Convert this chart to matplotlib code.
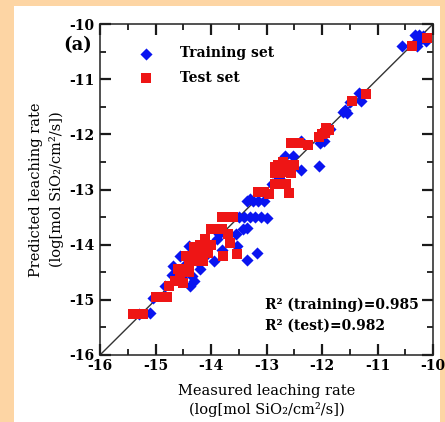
import matplotlib
matplotlib.use("Agg")
import matplotlib.pyplot as plt
from matplotlib.patches import Rectangle
from matplotlib.ticker import MultipleLocator

train_x = [-10.55, -10.32, -10.25, -10.30, -10.22, -10.18, -10.28, -10.12,
           -11.34, -11.30, -11.50, -11.62, -11.55, -11.58,
           -12.03, -11.97, -12.06, -11.85, -11.95,
           -12.37, -12.67, -12.52, -12.72, -12.37, -12.55, -12.90, -12.78,
           -13.35, -13.25, -13.15, -13.05, -13.30,
           -13.50, -13.40, -13.30, -13.20, -13.10, -13.00,
           -13.42, -13.35, -13.55, -13.53, -13.35, -13.18,
           -13.85, -13.90, -13.80, -13.95, -14.10,
           -14.20, -14.35, -14.38, -14.30, -14.53, -14.60, -14.83, -15.04,
           -14.68, -14.56, -14.40, -14.25, -14.45, -15.10, -15.30, -14.70]
train_y = [-10.39, -10.20, -10.20, -10.33, -10.27, -10.22, -10.40, -10.30,
           -11.25, -11.40, -11.42, -11.60, -11.62, -11.55,
           -12.15, -12.12, -12.57, -11.90, -11.95,
           -12.12, -12.40, -12.40, -12.55, -12.65, -12.60, -12.90, -12.80,
           -13.20, -13.20, -13.20, -13.20, -13.18,
           -13.50, -13.50, -13.50, -13.50, -13.50, -13.52,
           -13.72, -13.70, -13.80, -14.02, -14.27, -14.15,
           -13.80, -13.90, -14.10, -14.30, -14.20,
           -14.45, -14.57, -14.75, -14.65, -14.57, -14.62, -14.75, -14.96,
           -14.39, -14.21, -14.03, -14.30, -14.35, -15.24, -15.25, -14.55]

test_x = [-10.38, -10.11, -11.20, -11.46,
          -12.00, -11.95, -11.88, -12.05, -11.92,
          -12.55, -12.48, -12.42, -12.25,
          -12.85, -12.80, -12.75, -12.70, -12.65, -12.60, -12.55, -12.50,
          -12.85, -12.75, -12.65, -12.55, -12.70,
          -12.85, -12.75, -12.65, -12.60,
          -13.15, -13.05, -12.95,
          -13.80, -13.70, -13.60,
          -14.00, -13.90, -13.80, -13.70, -13.65, -13.78, -13.53,
          -14.10, -14.00, -14.10, -14.20, -14.30, -14.20, -14.05, -14.35,
          -14.45, -14.30, -14.15, -14.40, -14.50, -14.60, -14.40, -14.55,
          -14.65, -14.50, -14.75,
          -14.90, -14.80, -15.00, -15.40, -15.30, -15.22]
test_y = [-10.39, -10.25, -11.27, -11.40,
          -12.00, -11.97, -11.92, -12.05, -11.88,
          -12.15, -12.15, -12.15, -12.20,
          -12.60, -12.55, -12.60, -12.58, -12.62, -12.55, -12.60, -12.55,
          -12.70, -12.70, -12.68, -12.70, -12.50,
          -12.90, -12.90, -12.90, -13.06,
          -13.05, -13.05, -13.08,
          -13.50, -13.50, -13.50,
          -13.72, -13.72, -13.72, -13.80, -13.97, -14.20, -14.17,
          -13.90, -14.00, -14.05, -14.00, -14.05, -14.15, -14.15, -14.20,
          -14.20, -14.30, -14.30, -14.35, -14.45, -14.45, -14.50, -14.60,
          -14.65, -14.70, -14.75,
          -14.95, -14.95, -14.95, -15.25, -15.25, -15.25]

xticks = [-16, -15, -14, -13, -12, -11, -10]
yticks = [-16, -15, -14, -13, -12, -11, -10]

W, H = 445, 422
fig = plt.figure(figsize=(W / 100, H / 100), dpi=100, facecolor="#fdd5a4")
bg = Rectangle((14 / W, 0), (440 - 14) / W, (H - 6) / H,
               transform=fig.transFigure, facecolor="white",
               edgecolor="none", zorder=-10)
fig.add_artist(bg)

ax = fig.add_axes([100 / W, (H - 355) / H, 333 / W, 331 / H])
ax.set_xlim(-16, -10)
ax.set_ylim(-16, -10)

ax.plot([-16, -10], [-16, -10], color="#333333", lw=1.0, zorder=1)
ax.scatter(train_x, train_y, marker="D", s=38, color="#0a14f0", lw=0,
           zorder=2, label="Training set")
ax.scatter(test_x, test_y, marker="s", s=52, color="#ee1515", lw=0,
           zorder=3, label="Test set")

serif = "DejaVu Serif"
ax.set_xticks(xticks)
ax.set_yticks(yticks)
ax.set_xticklabels([str(t) for t in xticks], fontfamily=serif,
                   fontweight="bold", fontsize=10)
ax.set_yticklabels([str(t) for t in yticks], fontfamily=serif,
                   fontweight="bold", fontsize=10)
ax.xaxis.set_minor_locator(MultipleLocator(0.5))
ax.yaxis.set_minor_locator(MultipleLocator(0.5))
ax.tick_params(which="major", direction="in", top=True, right=True,
               width=1.6, length=8, color="#1a1a1a")
ax.tick_params(which="minor", direction="in", top=True, right=True,
               width=1.3, length=4.5, color="#1a1a1a")
ax.tick_params(axis="x", which="major", pad=3)
ax.tick_params(axis="y", which="major", pad=4)
for sp in ax.spines.values():
    sp.set_linewidth(1.1)
    sp.set_color("#222222")

ax.set_xlabel("Measured leaching rate\n(log[mol SiO\u2082/cm\u00b2/s])",
              fontfamily=serif, fontsize=10.5, linespacing=1.3, labelpad=8)
ax.set_ylabel("Predicted leaching rate\n(log[mol SiO\u2082/cm\u00b2/s])",
              fontfamily=serif, fontsize=10.5, linespacing=1.45, labelpad=4)

leg = ax.legend(loc="upper left", bbox_to_anchor=(0.06, 0.97), frameon=False,
                prop={"family": serif, "weight": "bold", "size": 10},
                handletextpad=1.4, labelspacing=0.75, markerscale=1.0)

ax.text(0.495, 0.151, "R\u00b2 (training)=0.985", transform=ax.transAxes,
        ha="left", va="center", fontfamily=serif, fontweight="bold",
        fontsize=10)
ax.text(0.495, 0.088, "R\u00b2 (test)=0.982", transform=ax.transAxes,
        ha="left", va="center", fontfamily=serif, fontweight="bold",
        fontsize=10)

fig.text(78 / W, 1 - 45 / H, "(a)", fontfamily=serif, fontweight="bold",
         fontsize=13, ha="center", va="center")

fig.savefig("out.png", dpi=100, facecolor=fig.get_facecolor())
